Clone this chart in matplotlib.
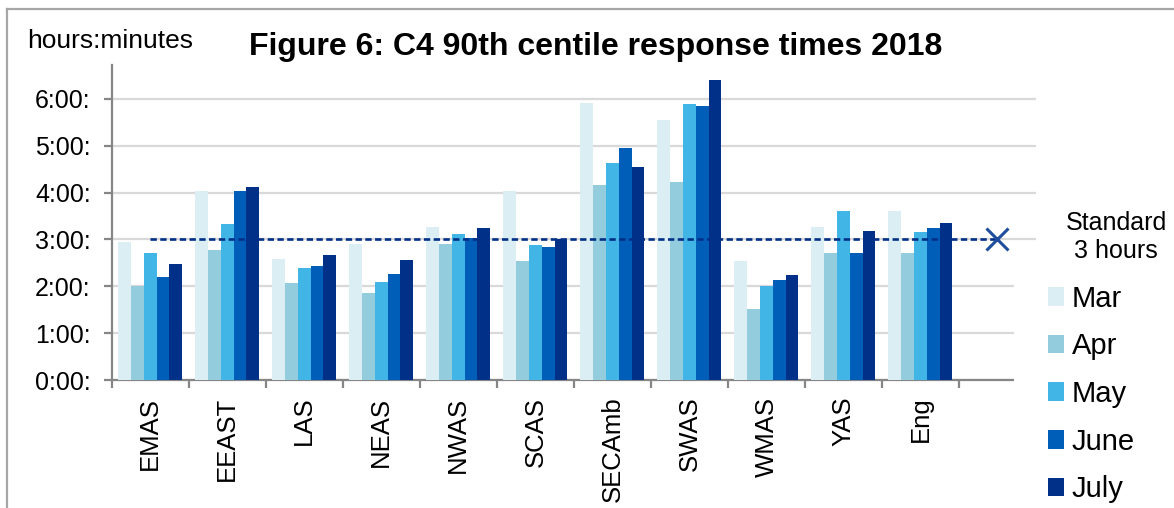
import matplotlib.pyplot as plt
import numpy as np

plt.rcParams['font.family'] = ['Liberation Sans', 'DejaVu Sans']

# data (hours)
regions = ['EMAS', 'EEAST', 'LAS', 'NEAS', 'NWAS', 'SCAS', 'SECAmb', 'SWAS', 'WMAS', 'YAS', 'Eng', '']
months = ['Mar', 'Apr', 'May', 'June', 'July']
mar = [2.94, 4.04, 2.59, 2.91, 3.27, 4.04, 5.90, 5.54, 2.53, 3.27, 3.60]
apr = [2.01, 2.78, 2.07, 1.85, 2.91, 2.53, 4.17, 4.23, 1.52, 2.72, 2.70]
may = [2.70, 3.33, 2.40, 2.10, 3.11, 2.89, 4.63, 5.88, 2.01, 3.60, 3.16]
jun = [2.20, 4.04, 2.44, 2.26, 3.02, 2.83, 4.94, 5.85, 2.13, 2.70, 3.25]
jul = [2.48, 4.12, 2.67, 2.56, 3.25, 3.01, 4.55, 6.39, 2.25, 3.18, 3.35]
standard = 3.0
yticks = [0, 1, 2, 3, 4, 5, 6]
ytick_labels = ['0:00:', '1:00:', '2:00:', '3:00:', '4:00:', '5:00:', '6:00:']

colors = ['#DAEEF3', '#93CDDD', '#41B6E6', '#005EB8', '#003087']

W, H = 1174, 508
fig = plt.figure(figsize=(W / 100, H / 100), dpi=100)
ax = fig.add_axes([111.7 / W, 1 - 380 / H, (1036 - 111.7) / W, (380 - 65) / H])

series = [mar, apr, may, jun, jul]
n = len(mar)
x = np.arange(n)
bw = 0.166
for i, (vals, lab) in enumerate(zip(series, months)):
    ax.bar(x + (i - 2) * bw, vals, width=bw, color=colors[i], label=lab, zorder=3)

# 3 hour standard, dashed across with a cross at the end
xs = np.arange(len(regions))
ax.plot(xs, [standard] * len(xs), color='#003087', lw=1.9, ls=(0, (2.4, 1.3)),
        zorder=4)
ax.plot(xs[-1], standard, marker='x', ms=16, mew=2.2, color='#1F4E9E', zorder=5)

ax.set_xlim(-0.5, len(regions) - 0.5)
ax.set_ylim(0, 6.72)
ax.set_yticks(yticks)
ax.set_yticklabels(ytick_labels, fontsize=18)
ax.yaxis.grid(True, color='#D9D9D9', lw=1.6)
ax.set_axisbelow(True)

ax.set_xticks(np.arange(len(regions) + 1) - 0.5)
ax.set_xticklabels([])
ax.set_xticks(xs, minor=True)
ax.set_xticklabels(regions, minor=True, rotation=90, fontsize=18.5)
ax.tick_params(axis='x', which='minor', length=0, pad=12)
ax.tick_params(axis='x', which='major', length=6, width=1.6, color='#868686')
ax.tick_params(axis='y', length=6, width=1.6, color='#868686', pad=9)

for s in ['top', 'right']:
    ax.spines[s].set_visible(False)
for s in ['left', 'bottom']:
    ax.spines[s].set_color('#868686')
    ax.spines[s].set_linewidth(1.6)

leg = ax.legend(loc='upper left', bbox_to_anchor=(1014 / W, 1 - 251 / H),
                bbox_transform=fig.transFigure, borderaxespad=0, borderpad=1.15,
                fontsize=21, handlelength=0.57, handleheight=0.62,
                handletextpad=0.25, labelspacing=0.675, frameon=True,
                fancybox=False, framealpha=1)
leg.get_frame().set_edgecolor('none')
leg.get_frame().set_facecolor('white')

fig.text(1116 / W, 1 - 237 / H, 'Standard\n3 hours', ha='center', va='center',
         fontsize=18, linespacing=1.25)
fig.text(596 / W, 1 - 55 / H, 'Figure 6: C4 90th centile response times 2018',
         ha='center', va='baseline', fontsize=23, fontweight='bold')
fig.text(27 / W, 1 - 48 / H, 'hours:minutes', ha='left', va='baseline', fontsize=19)

# chart border (left and top edges visible)
fig.add_artist(plt.Line2D([7 / W, 7 / W], [0, 1 - 9 / H], transform=fig.transFigure,
                          color='#A6A6A6', lw=1.6))
fig.add_artist(plt.Line2D([7 / W, 1], [1 - 9 / H, 1 - 9 / H], transform=fig.transFigure,
                          color='#A6A6A6', lw=1.6))

fig.savefig('out.png', dpi=100)
